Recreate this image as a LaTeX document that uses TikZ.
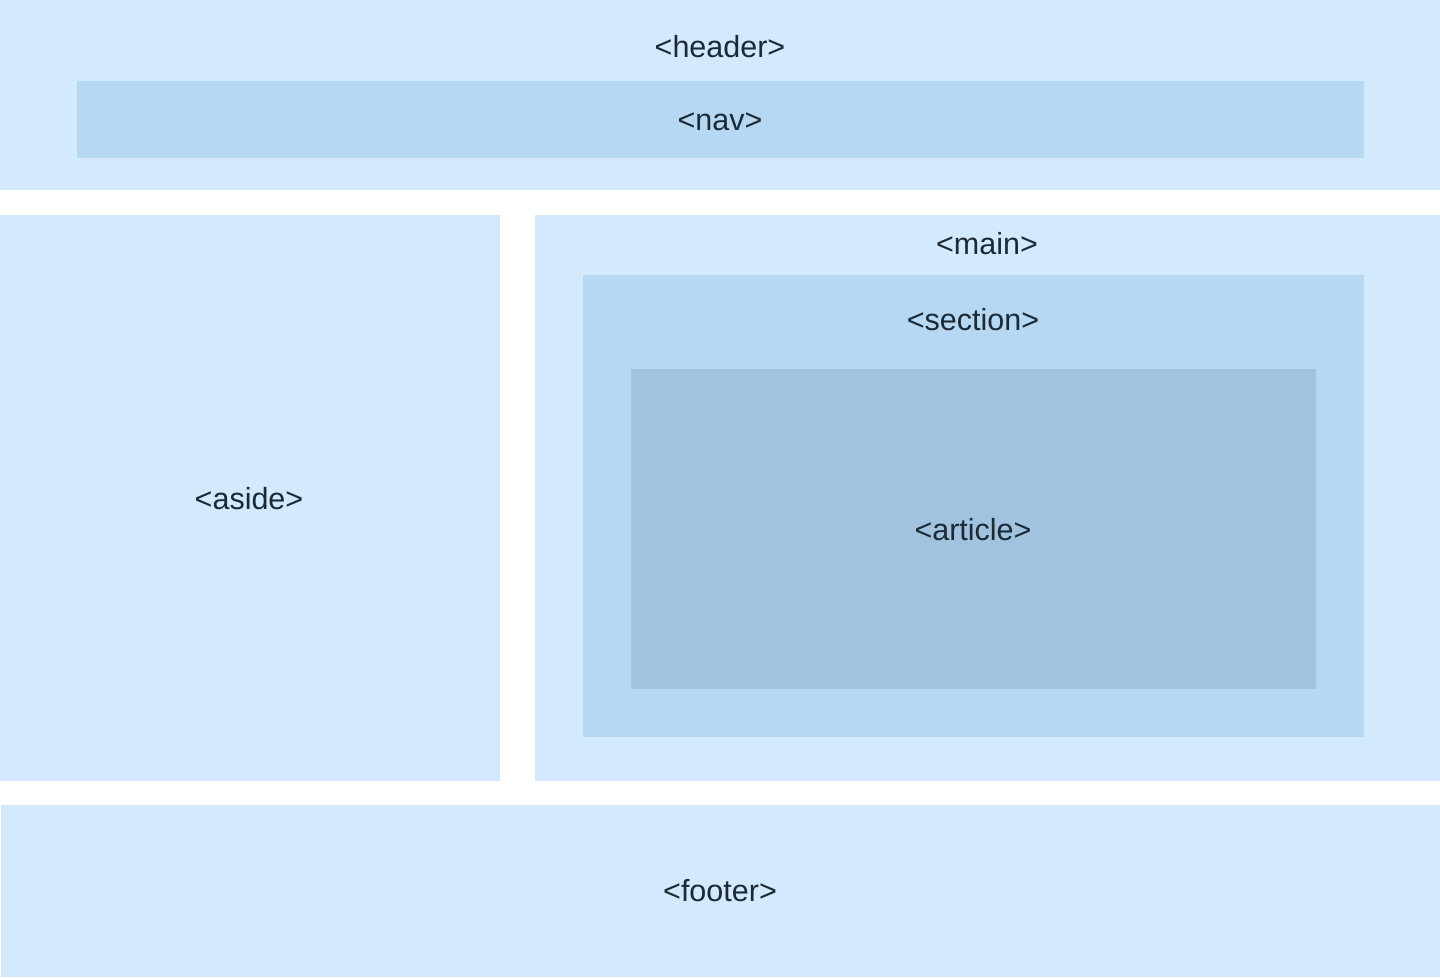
\documentclass[tikz,border=0pt]{standalone}
\usepackage{fontspec}
\setmainfont{Liberation Sans}
\definecolor{lightb}{HTML}{D3E9FD}
\definecolor{midb}{HTML}{B6D8F3}
\definecolor{darkb}{HTML}{A1C3E0}
\definecolor{txt}{HTML}{1C2A36}
\begin{document}
\begin{tikzpicture}[x=1pt,y=-1pt,
  box/.style={inner sep=0pt,outer sep=0pt},
  lbl/.style={text=txt,font=\fontsize{30.5}{36}\selectfont,inner sep=0pt,anchor=base}]
\useasboundingbox (0,0) rectangle (1440,977);
\fill[white] (0,0) rectangle (1440,977);
% header
\fill[lightb] (0,0) rectangle (1440,190);
\fill[midb] (77,81) rectangle (1364,158);
\node[lbl] (header) at (720,57) {<header>};
\node[lbl] (nav) at (720,130) {<nav>};
% aside
\fill[lightb] (0,215) rectangle (500,781);
\node[lbl] (aside) at (249,509) {<aside>};
% main
\fill[lightb] (535,215) rectangle (1440,781);
\node[lbl] (main) at (987,254) {<main>};
\fill[midb] (583,275) rectangle (1364,737);
\node[lbl] (section) at (973,330) {<section>};
\fill[darkb] (631,369) rectangle (1316,689);
\node[lbl] (article) at (973,540) {<article>};
% footer
\fill[lightb] (1,805) rectangle (1440,977);
\node[lbl] (footer) at (720,901) {<footer>};
\end{tikzpicture}
\end{document}
